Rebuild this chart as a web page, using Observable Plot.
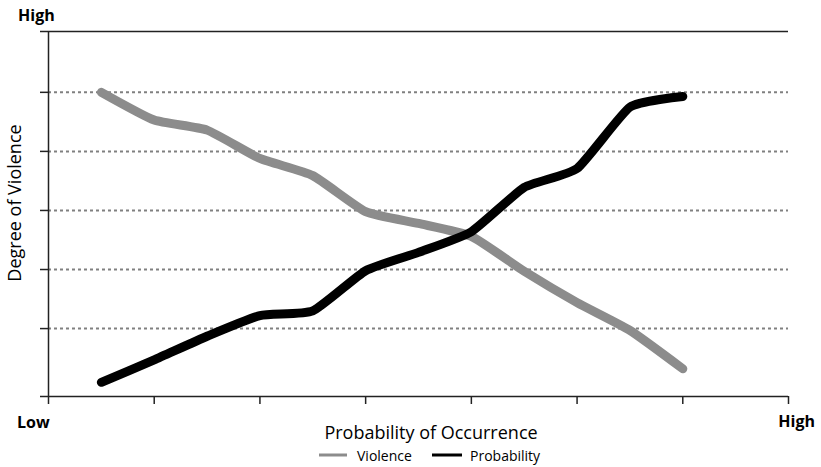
<!DOCTYPE html>
<html><head><meta charset="utf-8">
<script src="https://cdn.jsdelivr.net/npm/d3@7"></script>
<script src="https://cdn.jsdelivr.net/npm/@observablehq/plot@0.6"></script>
<style>
body{margin:0;background:#fff;font-family:"Open Sans",sans-serif}
#chart{width:821px;height:467px}
</style>
</head><body><div id="chart"></div>
<script>
const steps = [1,2,3,4,5,6,7,8,9,10,11,12];
const violence = [5.0,4.53,4.36,3.88,3.59,2.98,2.78,2.56,1.97,1.44,0.97,0.32];
const probability = [0.09,0.47,0.87,1.22,1.30,1.98,2.29,2.64,3.39,3.71,4.75,4.93];
const xTicks = [0,2,4,6,8,10,12,14];
const gridValues = [1,2,3,4,5];
const yMin = -0.15, yMax = 6.03;
const xMin = 0, xMax = 14;
const seriesNames = ["Violence","Probability"];
const seriesColors = ["#8c8c8c","#000000"];
const xLabel = "Probability of Occurrence";
const yLabel = "Degree of Violence";
const lowLabel = "Low", highLabel = "High";

const rows = [];
steps.forEach((s,i)=>{
  rows.push({x:s, y:violence[i], series:seriesNames[0]});
  rows.push({x:s, y:probability[i], series:seriesNames[1]});
});

const W = 821, H = 467;
const plot = Plot.plot({
  width: W, height: H,
  marginLeft: 48, marginRight: 33, marginTop: 31, marginBottom: 71,
  style: {background: "#fff", fontFamily: "Open Sans, sans-serif"},
  x: {domain: [xMin, xMax]},
  y: {domain: [yMin, yMax]},
  color: {domain: seriesNames, range: seriesColors},
  marks: [
    Plot.ruleY(gridValues, {stroke: "#808080", strokeWidth: 2, strokeDasharray: "3,3"}),
    Plot.ruleY([yMax], {stroke: "#222", strokeWidth: 1.5}),
    Plot.ruleY([yMin], {stroke: "#222", strokeWidth: 1.5}),
    Plot.ruleX([xMin], {stroke: "#222", strokeWidth: 1.5}),
    Plot.axisX({ticks: xTicks, tickSize: 8, tickFormat: () => "", stroke: "#222", strokeWidth: 1.5, label: null}),
    Plot.axisY({ticks: [yMin, ...gridValues, yMax], tickSize: 8, tickFormat: () => "", stroke: "#222", strokeWidth: 1.5, label: null}),
    Plot.line(rows, {x: "x", y: "y", z: "series", stroke: "series", strokeWidth: 9, curve: "cardinal", tension: 0.5, strokeLinecap: "round", strokeLinejoin: "round"})
  ]
});
document.getElementById("chart").appendChild(plot);

const svg = d3.select(plot);
const add = (txt, x, y, opts={}) => {
  const t = svg.append("text").attr("x", x).attr("y", y).text(txt)
    .attr("font-family", "Open Sans, sans-serif")
    .attr("font-size", opts.size || 16)
    .attr("font-weight", opts.weight || "normal")
    .attr("fill", "#000")
    .attr("text-anchor", opts.anchor || "start")
    .attr("dominant-baseline", "central");
  if (opts.rotate) t.attr("transform", `rotate(-90 ${x} ${y})`);
  return t;
};
add(highLabel, 18, 15, {weight: "bold", size: 16});
add(lowLabel, 17, 422, {weight: "bold", size: 16});
add(highLabel, 815, 421, {weight: "bold", size: 16, anchor: "end"});
add(xLabel, 431, 432, {size: 18, anchor: "middle"});
add(yLabel, 14, 203, {size: 18, anchor: "middle", rotate: true});

// legend
const lg = svg.append("g");
const legendItems = [
  {name: seriesNames[0], color: seriesColors[0], x1: 319, x2: 347, tx: 357},
  {name: seriesNames[1], color: seriesColors[1], x1: 432, x2: 462, tx: 470}
];
legendItems.forEach(d => {
  lg.append("line").attr("x1", d.x1).attr("x2", d.x2).attr("y1", 455).attr("y2", 455)
    .attr("stroke", d.color).attr("stroke-width", 3);
  add(d.name, d.tx, 455, {size: 14});
});
</script>
</body></html>
